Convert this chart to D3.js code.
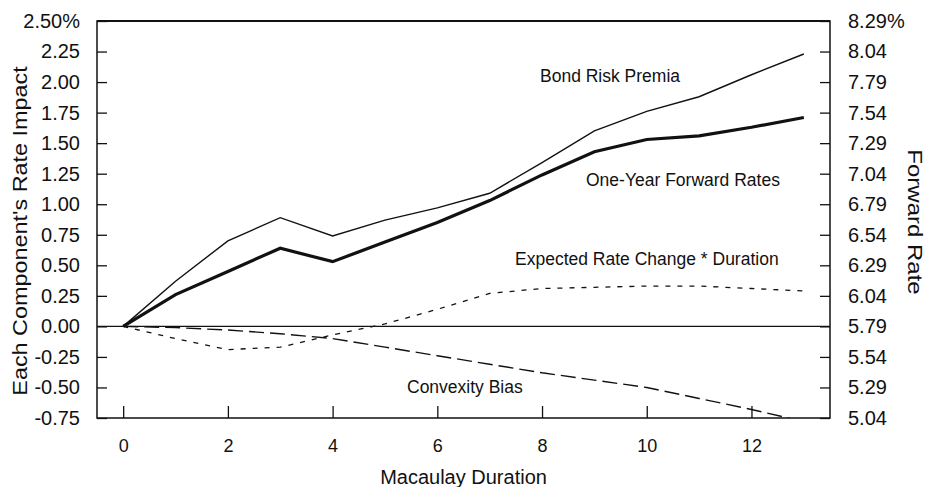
<!DOCTYPE html>
<html>
<head>
<meta charset="utf-8">
<script src="https://cdn.jsdelivr.net/npm/d3@7"></script>
<style>
	body { margin: 0; background: #fff; }
	svg { font-family: "Liberation Sans", Arial, sans-serif; }
	.axis text { font-size: 20px; fill: #111; }
	.axis.x text { font-size: 18px; }
	.axis line { stroke: #111; stroke-width: 1.3; }
	.axis path { display: none; }
	.label { font-size: 17.5px; fill: #111; }
	.title { font-size: 20px; fill: #111; }
</style>
</head>
<body>
<div id="chart"></div>
<script>
// Macaulay duration (x)
var duration = [0, 1, 2, 3, 4, 5, 6, 7, 8, 9, 10, 11, 12, 13];

// component impacts, left axis (%)
var bondRiskPremia = [0, 0.37, 0.70, 0.89, 0.74, 0.87, 0.97, 1.09, 1.34, 1.60, 1.76, 1.88, 2.06, 2.23];
var expectedChange = [0, -0.10, -0.19, -0.17, -0.07, 0.02, 0.14, 0.27, 0.31, 0.32, 0.33, 0.33, 0.31, 0.29];
var convexityBias = [0, -0.01, -0.03, -0.06, -0.10, -0.17, -0.24, -0.31, -0.38, -0.44, -0.50, -0.59, -0.68, -0.78];

// one-year forward rates, right axis (%)
var forwardRates = [5.79, 6.05, 6.24, 6.43, 6.32, 6.48, 6.64, 6.82, 7.03, 7.22, 7.32, 7.35, 7.42, 7.50];

// tick labels
var leftTicks = [2.5, 2.25, 2.0, 1.75, 1.5, 1.25, 1.0, 0.75, 0.5, 0.25, 0, -0.25, -0.5, -0.75];
var rightTicks = [8.29, 8.04, 7.79, 7.54, 7.29, 7.04, 6.79, 6.54, 6.29, 6.04, 5.79, 5.54, 5.29, 5.04];
var xTicks = [0, 2, 4, 6, 8, 10, 12];

var W = 925, H = 487;
var margin = {top: 21, right: 95, bottom: 69, left: 97};
var width = W - margin.left - margin.right;
var height = H - margin.top - margin.bottom;

var svg = d3.select("#chart").append("svg")
	.attr("width", W)
	.attr("height", H);

var g = svg.append("g")
	.attr("transform", "translate(" + margin.left + "," + margin.top + ")");

var x = d3.scaleLinear().domain([-0.5, 13.5]).range([0, width]);
var yL = d3.scaleLinear().domain([-0.75, 2.5]).range([height, 0]);
var yR = d3.scaleLinear().domain([5.04, 8.29]).range([height, 0]);

g.append("clipPath").attr("id", "clip")
	.append("rect").attr("width", width).attr("height", height);

// axes (ticks drawn inward), plain hyphen for negatives
var fmt = function(d) { return d3.format(".2f")(d).replace("\u2212", "-"); };
g.append("g").attr("class", "axis")
	.call(d3.axisLeft(yL).tickValues(leftTicks).tickSize(-10).tickPadding(17)
		.tickFormat(function(d) { return d === 2.5 ? "2.50%" : fmt(d); }));

g.append("g").attr("class", "axis")
	.attr("transform", "translate(" + width + ",0)")
	.call(d3.axisRight(yR).tickValues(rightTicks).tickSize(-10).tickPadding(18)
		.tickFormat(function(d) { return d === 8.29 ? "8.29%" : fmt(d); }));

g.append("g").attr("class", "axis x")
	.attr("transform", "translate(0," + height + ")")
	.call(d3.axisBottom(x).tickValues(xTicks).tickSize(-12).tickPadding(21));

// frame
g.append("rect")
	.attr("width", width).attr("height", height)
	.attr("fill", "none").attr("stroke", "#111").attr("stroke-width", 1.5);
g.append("line")
	.attr("x1", 0).attr("x2", width).attr("y1", 0).attr("y2", 0)
	.attr("stroke", "#111").attr("stroke-width", 2.2);

// zero line
g.append("line")
	.attr("x1", 0).attr("x2", width)
	.attr("y1", yL(0)).attr("y2", yL(0))
	.attr("stroke", "#111").attr("stroke-width", 1.3);

function lineOf(vals, y) {
	return d3.line()
		.x(function(d, i) { return x(duration[i]); })
		.y(function(d) { return y(d); })(vals);
}

var lines = g.append("g").attr("clip-path", "url(#clip)").attr("fill", "none").attr("stroke", "#111");

lines.append("path").attr("d", lineOf(bondRiskPremia, yL)).attr("stroke-width", 1.4);
lines.append("path").attr("d", lineOf(forwardRates, yR)).attr("stroke-width", 3.2);
lines.append("path").attr("d", lineOf(expectedChange, yL))
	.attr("stroke-width", 1.3).attr("stroke-dasharray", "5,7");
lines.append("path").attr("d", lineOf(convexityBias, yL))
	.attr("stroke-width", 1.4).attr("stroke-dasharray", "15,6");

// series labels
var labels = [
	{text: "Bond Risk Premia", x: 443, y: 55},
	{text: "One-Year Forward Rates", x: 489, y: 159},
	{text: "Expected Rate Change * Duration", x: 418, y: 238},
	{text: "Convexity Bias", x: 310, y: 366}
];
g.selectAll(".label").data(labels).enter().append("text")
	.attr("class", "label")
	.attr("x", function(d) { return d.x; })
	.attr("y", function(d) { return d.y; })
	.attr("dy", "0.35em")
	.text(function(d) { return d.text; });

// axis titles
svg.append("text").attr("class", "title")
	.attr("x", margin.left + x(6.5)).attr("y", 477).attr("dy", "0.35em")
	.attr("text-anchor", "middle")
	.text("Macaulay Duration");

svg.append("text").attr("class", "title")
	.attr("transform", "translate(20,231) rotate(-90) scale(1.17,1)")
	.attr("dy", "0.35em")
	.attr("text-anchor", "middle")
	.text("Each Component's Rate Impact");

svg.append("text").attr("class", "title")
	.attr("transform", "translate(915,222) rotate(90) scale(1.2,1)")
	.attr("dy", "0.35em")
	.attr("text-anchor", "middle")
	.text("Forward Rate");
</script>
</body>
</html>
